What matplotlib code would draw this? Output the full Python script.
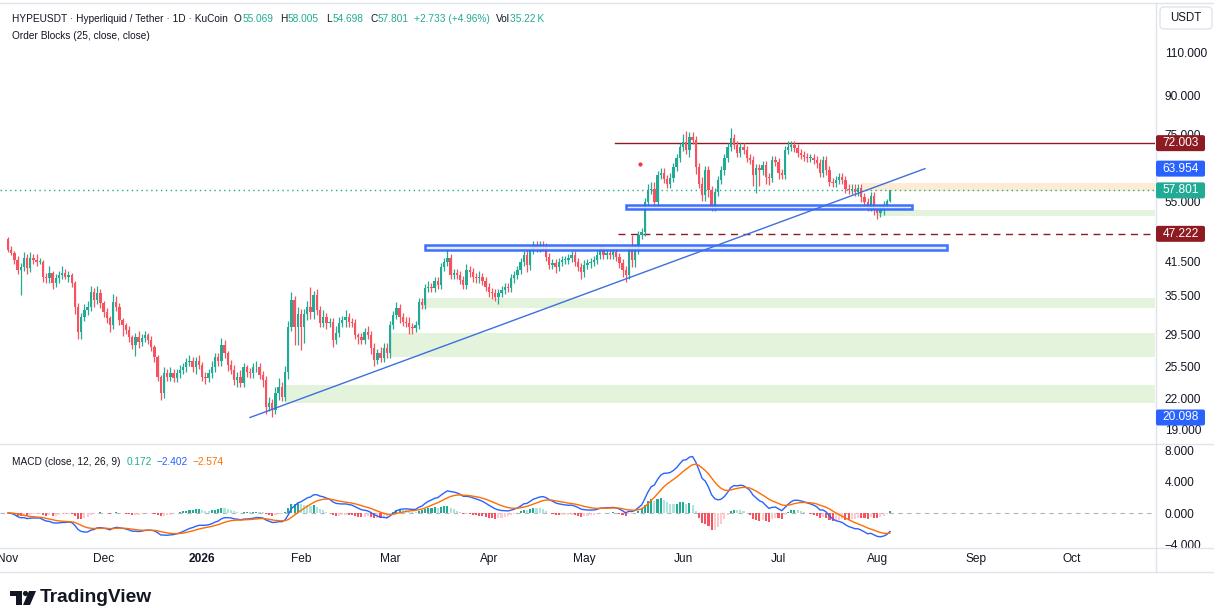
import numpy as np
import pandas as pd
import matplotlib
matplotlib.use("Agg")
import matplotlib.pyplot as plt
import matplotlib.dates as mdates
from matplotlib.patches import Rectangle, FancyBboxPatch, Circle, Polygon
from matplotlib.lines import Line2D
from matplotlib.transforms import IdentityTransform
from matplotlib.ticker import FixedLocator, FixedFormatter, NullLocator

plt.rcParams['font.family'] = ['Liberation Sans', 'DejaVu Sans']

# ---- daily candles, first candle 2025-11-01 ----
start_date = '2025-11-01'
first_open = 46.0
closes = [
    43.8, 43.2, 41.8, 39.9, 40.5, 42.2, 40.3, 42.2, 41.8, 41.4,
    41.4, 38.6, 38.4, 39.4, 37.6, 38.4, 39.0, 39.4, 38.6, 39.0,
    37.6, 33.6, 29.9, 32.1, 33.1, 33.6, 36.0, 34.7, 35.9, 34.2,
    32.8, 31.9, 30.9, 34.4, 33.6, 31.6, 30.9, 30.2, 29.2, 28.2,
    29.2, 28.6, 29.1, 29.5, 28.8, 27.9, 26.6, 24.3, 22.5, 24.7,
    24.3, 24.7, 24.2, 24.7,
    25.1, 25.4, 26.0, 26.1, 25.4, 26.1, 25.7, 24.3, 24.2, 24.7,
    25.4, 26.6, 26.1, 28.2, 27.1, 25.7, 25.1, 23.9, 24.3, 23.6,
    25.4, 24.8, 24.7, 25.4, 25.4, 24.5, 23.9, 21.1, 21.5, 20.8,
    22.5, 23.2, 22.1, 24.8, 30.6, 34.7, 30.6, 32.6, 30.6, 32.6,
    33.6, 32.8, 35.5, 33.1, 31.2, 32.1, 31.2, 31.3, 28.8, 29.8,
    31.2, 31.6, 32.1, 31.3, 31.2, 29.5, 29.2,
    28.8, 29.9, 29.5, 27.8, 26.3, 27.1, 26.5, 27.8, 27.1, 30.9,
    32.4, 33.4, 32.1, 31.4, 31.2, 30.6, 30.5, 30.9, 34.4, 33.9,
    36.7, 36.9, 36.7, 37.9, 37.2, 40.5, 41.4, 42.2, 39.0, 39.4,
    39.0, 38.1, 37.2, 39.9, 39.5, 38.6, 38.4, 38.6, 37.9, 36.9,
    36.0, 35.9, 35.2, 35.9, 36.4, 36.9, 36.7, 38.4, 39.0, 39.9,
    41.4, 42.8, 40.8, 43.8, 44.8, 44.2,
    44.8, 44.4, 42.4, 40.9, 41.2, 40.5, 41.4, 41.8, 41.8, 42.2,
    42.8, 41.4, 40.5, 39.5, 40.9, 41.2, 41.4, 41.8, 42.8, 43.8,
    42.8, 43.2, 42.8, 43.4, 42.4, 41.2, 39.9, 39.0, 43.8, 41.8,
    43.8, 47.0, 47.6, 54.8, 57.9, 58.3, 54.8, 62.1, 62.8, 61.0,
    59.6, 61.3, 64.4, 67.2, 70.8, 72.4, 69.7, 74.2, 73.1, 64.4,
    59.6, 56.6, 63.5, 57.9, 53.5, 57.4,
    60.7, 63.5, 67.2, 70.7, 73.7, 71.4, 68.8, 70.7, 69.7, 67.2,
    66.6, 62.1, 64.1, 63.5, 65.0, 61.5, 61.2, 66.6, 66.0, 62.7,
    62.1, 69.7, 70.7, 71.4, 70.4, 68.8, 68.1, 67.5, 67.2, 67.2,
    66.6, 65.6, 62.8, 66.6, 63.5, 60.1, 59.8, 60.7, 61.5, 60.7,
    58.3, 57.9, 58.3, 57.4, 58.5, 56.0, 54.8, 53.5, 56.3, 52.7,
    52.0, 52.7, 54.0, 55.069, 57.801,
]
# upper / lower wick length in % of the candle body edge
wick_up = [
    1, 2, 1, 2, 2, 3, 2, 3, 2, 3, 2, 1, 2, 3, 1, 2, 2, 3, 2, 2,
    1, 1, 2, 2, 3, 3, 3, 2, 3, 2, 1, 2, 1, 4, 3, 2, 1, 1, 2, 1,
    2, 3, 2, 2, 1, 2, 1, 1, 1, 3, 2, 3, 2, 2,
    2, 2, 2, 3, 2, 2, 3, 1, 2, 2, 3, 2, 2, 3, 2, 1, 2, 2, 2, 3,
    2, 1, 2, 2, 3, 2, 2, 2, 3, 2, 3, 4, 2, 3, 3, 4, 2, 3, 2, 2,
    3, 10, 2, 3, 2, 3, 2, 2, 2, 3, 3, 2, 3, 2, 2, 2, 1,
    2, 2, 3, 2, 2, 2, 3, 2, 2, 2, 2, 3, 2, 2, 2, 3, 2, 2, 2, 2,
    2, 3, 2, 2, 2, 2, 2, 4, 2, 2, 2, 2, 2, 3, 2, 2, 2, 3, 2, 2,
    2, 2, 2, 2, 2, 2, 2, 2, 2, 2, 2, 2, 3, 2, 2, 2,
    2, 2, 2, 2, 2, 2, 2, 2, 2, 2, 2, 2, 2, 2, 2, 2, 2, 2, 2, 2,
    2, 2, 2, 2, 2, 2, 2, 2, 2, 7, 3, 2, 2, 2, 3, 3, 3, 2, 2, 2,
    2, 2, 2, 2, 2, 4, 5, 2, 2, 2, 2, 3, 2, 2, 2, 2,
    2, 2, 2, 2, 5, 2, 2, 2, 2, 2, 2, 2, 2, 2, 2, 2, 2, 2, 2, 2,
    2, 2, 3, 2, 2, 2, 2, 2, 2, 2, 2, 2, 2, 2, 2, 2, 2, 2, 2, 2,
    2, 2, 2, 2, 2, 2, 2, 2, 2, 2, 2, 2, 2, 1, 0.35,
]
wick_dn = [
    1, 1, 2, 2, 11, 2, 3, 2, 2, 2, 1, 2, 2, 2, 3, 2, 2, 2, 1, 2,
    2, 3, 3, 3, 2, 2, 2, 3, 2, 2, 2, 2, 3, 2, 2, 2, 5, 2, 2, 2,
    5, 3, 2, 2, 2, 2, 2, 2, 3, 2, 2, 2, 2, 2,
    2, 2, 2, 2, 2, 3, 2, 2, 3, 2, 2, 2, 2, 2, 2, 3, 2, 2, 3, 2,
    2, 2, 2, 2, 2, 2, 3, 3, 2, 3, 2, 3, 2, 2, 3, 2, 8, 8, 10, 7,
    3, 3, 3, 2, 2, 2, 3, 2, 3, 2, 2, 2, 3, 2, 2, 2, 3,
    2, 2, 2, 3, 3, 2, 2, 2, 2, 2, 2, 2, 3, 2, 2, 3, 3, 2, 2, 2,
    2, 2, 2, 2, 2, 2, 2, 2, 2, 2, 2, 2, 2, 2, 2, 2, 2, 2, 2, 2,
    2, 3, 2, 3, 2, 2, 2, 2, 2, 2, 2, 2, 3, 2, 2, 2,
    2, 2, 2, 2, 2, 3, 2, 2, 2, 2, 2, 2, 2, 3, 2, 2, 2, 2, 2, 2,
    2, 2, 2, 2, 2, 2, 3, 3, 2, 3, 3, 2, 2, 2, 2, 2, 2, 2, 2, 2,
    2, 2, 2, 2, 2, 2, 2, 3, 2, 3, 2, 3, 3, 3, 2, 2,
    2, 2, 2, 2, 2, 2, 2, 2, 2, 2, 2, 5, 8, 7, 2, 3, 3, 2, 2, 3,
    2, 2, 2, 2, 2, 2, 2, 2, 2, 2, 2, 2, 2, 2, 2, 2, 2, 2, 2, 2,
    2, 2, 2, 2, 2, 2, 2, 2, 2, 2, 2.5, 2, 2, 2, 0.67,
]

# ---- drawings (day offsets from start_date) ----
bull_zone_start = [130, 120, 87, 273]
bull_zone_low = [33.4, 26.6, 21.5, 51.2]
bull_zone_high = [35.0, 29.8, 23.4, 52.7]
bear_zone = (268, 57.6, 59.8)
box_start = [131, 194]
box_end = [295, 284]
box_low = [43.9, 53.0]
box_high = [44.85, 54.0]
trend_days = [76, 288]
trend_prices = [20.098, 63.954]
resist_level, resist_start = 72.003, 190.5
dash_level, dash_start = 47.222, 191.5
marker_day, marker_price = 198.5, 65.3
last_price = 57.801

price_ticks = [19, 22, 25.5, 29.5, 35.5, 41.5, 55, 75, 90, 110]
macd_ticks = [-4, 0, 4, 8]
macd_tick_labels = ['\u22124.000', '0.000', '4.000', '8.000']
month_labels = ['Nov', 'Dec', '2026', 'Feb', 'Mar', 'Apr', 'May', 'Jun',
                'Jul', 'Aug', 'Sep', 'Oct']

W, H = 1214, 615
UP, DOWN = '#22ab94', '#f7525f'
TXT = '#131722'
SEP = '#e0e3eb'
BLUE = '#2962ff'
ORANGE = '#ff6d00'
DARKRED = '#8e1b22'

closes = np.array(closes, dtype=float)
opens = np.r_[first_open, closes[:-1]]
up_pct = np.array(wick_up, dtype=float)
dn_pct = np.array(wick_dn, dtype=float)
highs = np.maximum(opens, closes) * (1 + up_pct / 100)
lows = np.minimum(opens, closes) * (1 - dn_pct / 100)

dates = pd.date_range(start_date, periods=len(closes), freq='D')
x = mdates.date2num(dates)
x0 = x[0]
PPD = 3.184  # pixels per day
xlim = (x0 - 8 / PPD, x0 + (1155 - 8) / PPD)

# MACD from the closes
s = pd.Series(closes)
macd = s.ewm(span=12, adjust=False).mean() - s.ewm(span=26, adjust=False).mean()
signal = macd.ewm(span=9, adjust=False).mean()
hist = (macd - signal).values
prev = np.r_[hist[0], hist[:-1]]
hist_col = np.where(hist >= 0,
                    np.where(hist > prev, '#22ab94', '#ace5dc'),
                    np.where(hist > prev, '#fccbcd', '#f7525f'))

fig = plt.figure(figsize=(W / 100, H / 100), dpi=100)
fig.patch.set_facecolor('white')
ident = IdentityTransform()
renderer = fig.canvas.get_renderer()

ax = fig.add_axes([0, 1 - 443 / H, 1155 / W, 435 / H])
mx = fig.add_axes([0, 1 - 547 / H, 1155 / W, 102 / H])
for a in (ax, mx):
    for sp in a.spines.values():
        sp.set_visible(False)
    a.set_xlim(*xlim)
    a.set_xticks([])
    a.yaxis.tick_right()
    a.tick_params(axis='y', length=0, pad=7, labelsize=8.6, labelcolor=TXT)

# ---- price pane ----
ax.set_yscale('log')
ax.set_ylim(17.85, 135.0)
ax.yaxis.set_major_locator(FixedLocator(price_ticks))
ax.yaxis.set_major_formatter(FixedFormatter(['%.3f' % t for t in price_ticks]))
ax.yaxis.set_minor_locator(NullLocator())

for d0, lo, hi in zip(bull_zone_start, bull_zone_low, bull_zone_high):
    ax.add_patch(Rectangle((x0 + d0, lo), xlim[1] - x0 - d0, hi - lo,
                           fc='#e3f3dc', ec='none', zorder=1))
ax.add_patch(Rectangle((x0 + bear_zone[0], bear_zone[1]), xlim[1] - x0 - bear_zone[0],
                       bear_zone[2] - bear_zone[1], fc='#fdebd3', ec='none', zorder=1))

ax.axhline(last_price, color=UP, lw=1, ls=(0, (1, 2.5)), zorder=1)
ax.plot([x0 + resist_start, xlim[1]], [resist_level] * 2, color=DARKRED, lw=1, zorder=2)
ax.plot([x0 + dash_start, xlim[1]], [dash_level] * 2, color=DARKRED, lw=1,
        ls=(0, (5, 4)), zorder=2)

col = np.where(closes >= opens, UP, DOWN)
ax.vlines(x, lows, highs, colors=col, lw=0.9, zorder=3)
body = np.maximum(np.abs(closes - opens), closes * 0.003)
ax.bar(x, body, bottom=np.minimum(opens, closes), width=0.74, color=col,
       linewidth=0, zorder=3)

for b0, b1, lo, hi in zip(box_start, box_end, box_low, box_high):
    ax.add_patch(Rectangle((x0 + b0, lo), b1 - b0, hi - lo, fc='#e4ebff',
                           ec=BLUE, lw=1.8, alpha=0.9, zorder=4))
ax.plot([x0 + d for d in trend_days], trend_prices, color='#3d6fe0', lw=1, zorder=5)
ax.scatter([x0 + marker_day], [marker_price], s=4, color='#f23645', zorder=5)

# ---- MACD pane ----
mx.set_ylim(-4.387, 8.774)
mx.yaxis.set_major_locator(FixedLocator(macd_ticks))
mx.yaxis.set_major_formatter(FixedFormatter(macd_tick_labels))
mx.axhline(0, color='#b2b5be', lw=0.8, ls=(0, (4, 4)), zorder=1)
mx.bar(x, hist, width=0.66, color=hist_col, linewidth=0, zorder=2)
mx.plot(x, macd.values, color=BLUE, lw=1, zorder=3)
mx.plot(x, signal.values, color=ORANGE, lw=1, zorder=3)

# cover under the MACD pane (time scale band)
fig.add_artist(Rectangle((0, H - 572), W, 24.5, transform=ident, fc='white',
                         ec='none', zorder=2))

# time axis
tax = fig.add_axes([0, 1 - 552 / H, 1155 / W, 1 / H], zorder=5)
tax.set_facecolor('none')
for sp in tax.spines.values():
    sp.set_visible(False)
tax.set_xlim(*xlim)
tax.set_yticks([])
months = mdates.date2num(pd.date_range(start_date, periods=len(month_labels), freq='MS'))
tax.set_xticks(months)
tax.set_xticklabels(month_labels)
tax.tick_params(axis='x', length=0, pad=1, labelsize=8.6, labelcolor=TXT)
for lab in tax.get_xticklabels():
    if lab.get_text() == '2026':
        lab.set_fontweight('bold')

# separators
for xa, ya, xb, yb in [(0, 3, W, 3), (0, 443.5, W, 443.5), (0, 547.5, W, 547.5),
                       (0, 572, W, 572), (1155.5, 3, 1155.5, 572)]:
    fig.add_artist(Line2D([xa, xb], [H - ya, H - yb], transform=ident, color=SEP,
                          lw=1, zorder=6))


# price label boxes on the right scale
def price_box(a, value, label, color):
    _, yd = a.transData.transform((x0, value))
    fig.add_artist(FancyBboxPatch((1156, yd - 8), 49, 16, transform=ident,
                                  boxstyle='round,pad=0,rounding_size=2',
                                  fc=color, ec='none', zorder=8))
    fig.text(1180.5 / W, yd / H, label, color='white', fontsize=8.6,
             ha='center', va='center', zorder=9)


price_box(ax, resist_level, '72.003', DARKRED)
price_box(ax, trend_prices[1], '63.954', BLUE)
price_box(ax, last_price, '57.801', UP)
price_box(ax, dash_level, '47.222', DARKRED)
price_box(ax, trend_prices[0], '20.098', BLUE)

fig.add_artist(FancyBboxPatch((1160, H - 29), 52, 22, transform=ident,
                              boxstyle='round,pad=0,rounding_size=4',
                              fc='white', ec=SEP, lw=1, zorder=7))
fig.text(1186 / W, 1 - 18 / H, 'USDT', fontsize=8.3, color=TXT, ha='center',
         va='center', zorder=9)


# legend texts, laid out piece after piece
def chain(x_start, yp, pieces, size=7.3):
    xc = x_start
    for txt, c, gap in pieces:
        xc += gap
        t = fig.text(xc / W, 1 - yp / H, txt, color=c, fontsize=size,
                     ha='left', va='center', zorder=9)
        xc = t.get_window_extent(renderer).x1


chain(12, 19, [('HYPEUSDT \u00b7 Hyperliquid / Tether \u00b7 1D \u00b7 KuCoin', TXT, 0),
               ('O', TXT, 6), ('55.069', UP, 0.5),
               ('H', TXT, 7), ('58.005', UP, 0.5),
               ('L', TXT, 7), ('54.698', UP, 0.5),
               ('C', TXT, 7), ('57.801', UP, 0.5),
               ('+2.733 (+4.96%)', UP, 5),
               ('Vol', TXT, 6), ('35.22\u2009K', UP, 0.5)])
chain(12, 36, [('Order Blocks (25, close, close)', TXT, 0)])
chain(12, 462, [('MACD (close, 12, 26, 9)', TXT, 0), ('0.172', UP, 6),
                ('\u22122.402', BLUE, 5), ('\u22122.574', ORANGE, 5)])

# TradingView logo
fig.add_artist(Rectangle((10, H - 596), 12, 5, transform=ident, fc=TXT, ec='none', zorder=9))
fig.add_artist(Rectangle((16, H - 605), 6, 14, transform=ident, fc=TXT, ec='none', zorder=9))
fig.add_artist(Circle((25.5, H - 593.5), 2.6, transform=ident, fc=TXT, ec='none', zorder=9))
fig.add_artist(Polygon([(29, H - 591), (36, H - 591), (30, H - 605), (23, H - 605)],
                       transform=ident, fc=TXT, ec='none', zorder=9))
fig.text(40 / W, 1 - 598 / H, 'TradingView', fontsize=13.8, fontweight='bold',
         color=TXT, ha='left', va='center', zorder=9)

fig.savefig('out.png', dpi=100, facecolor='white')
